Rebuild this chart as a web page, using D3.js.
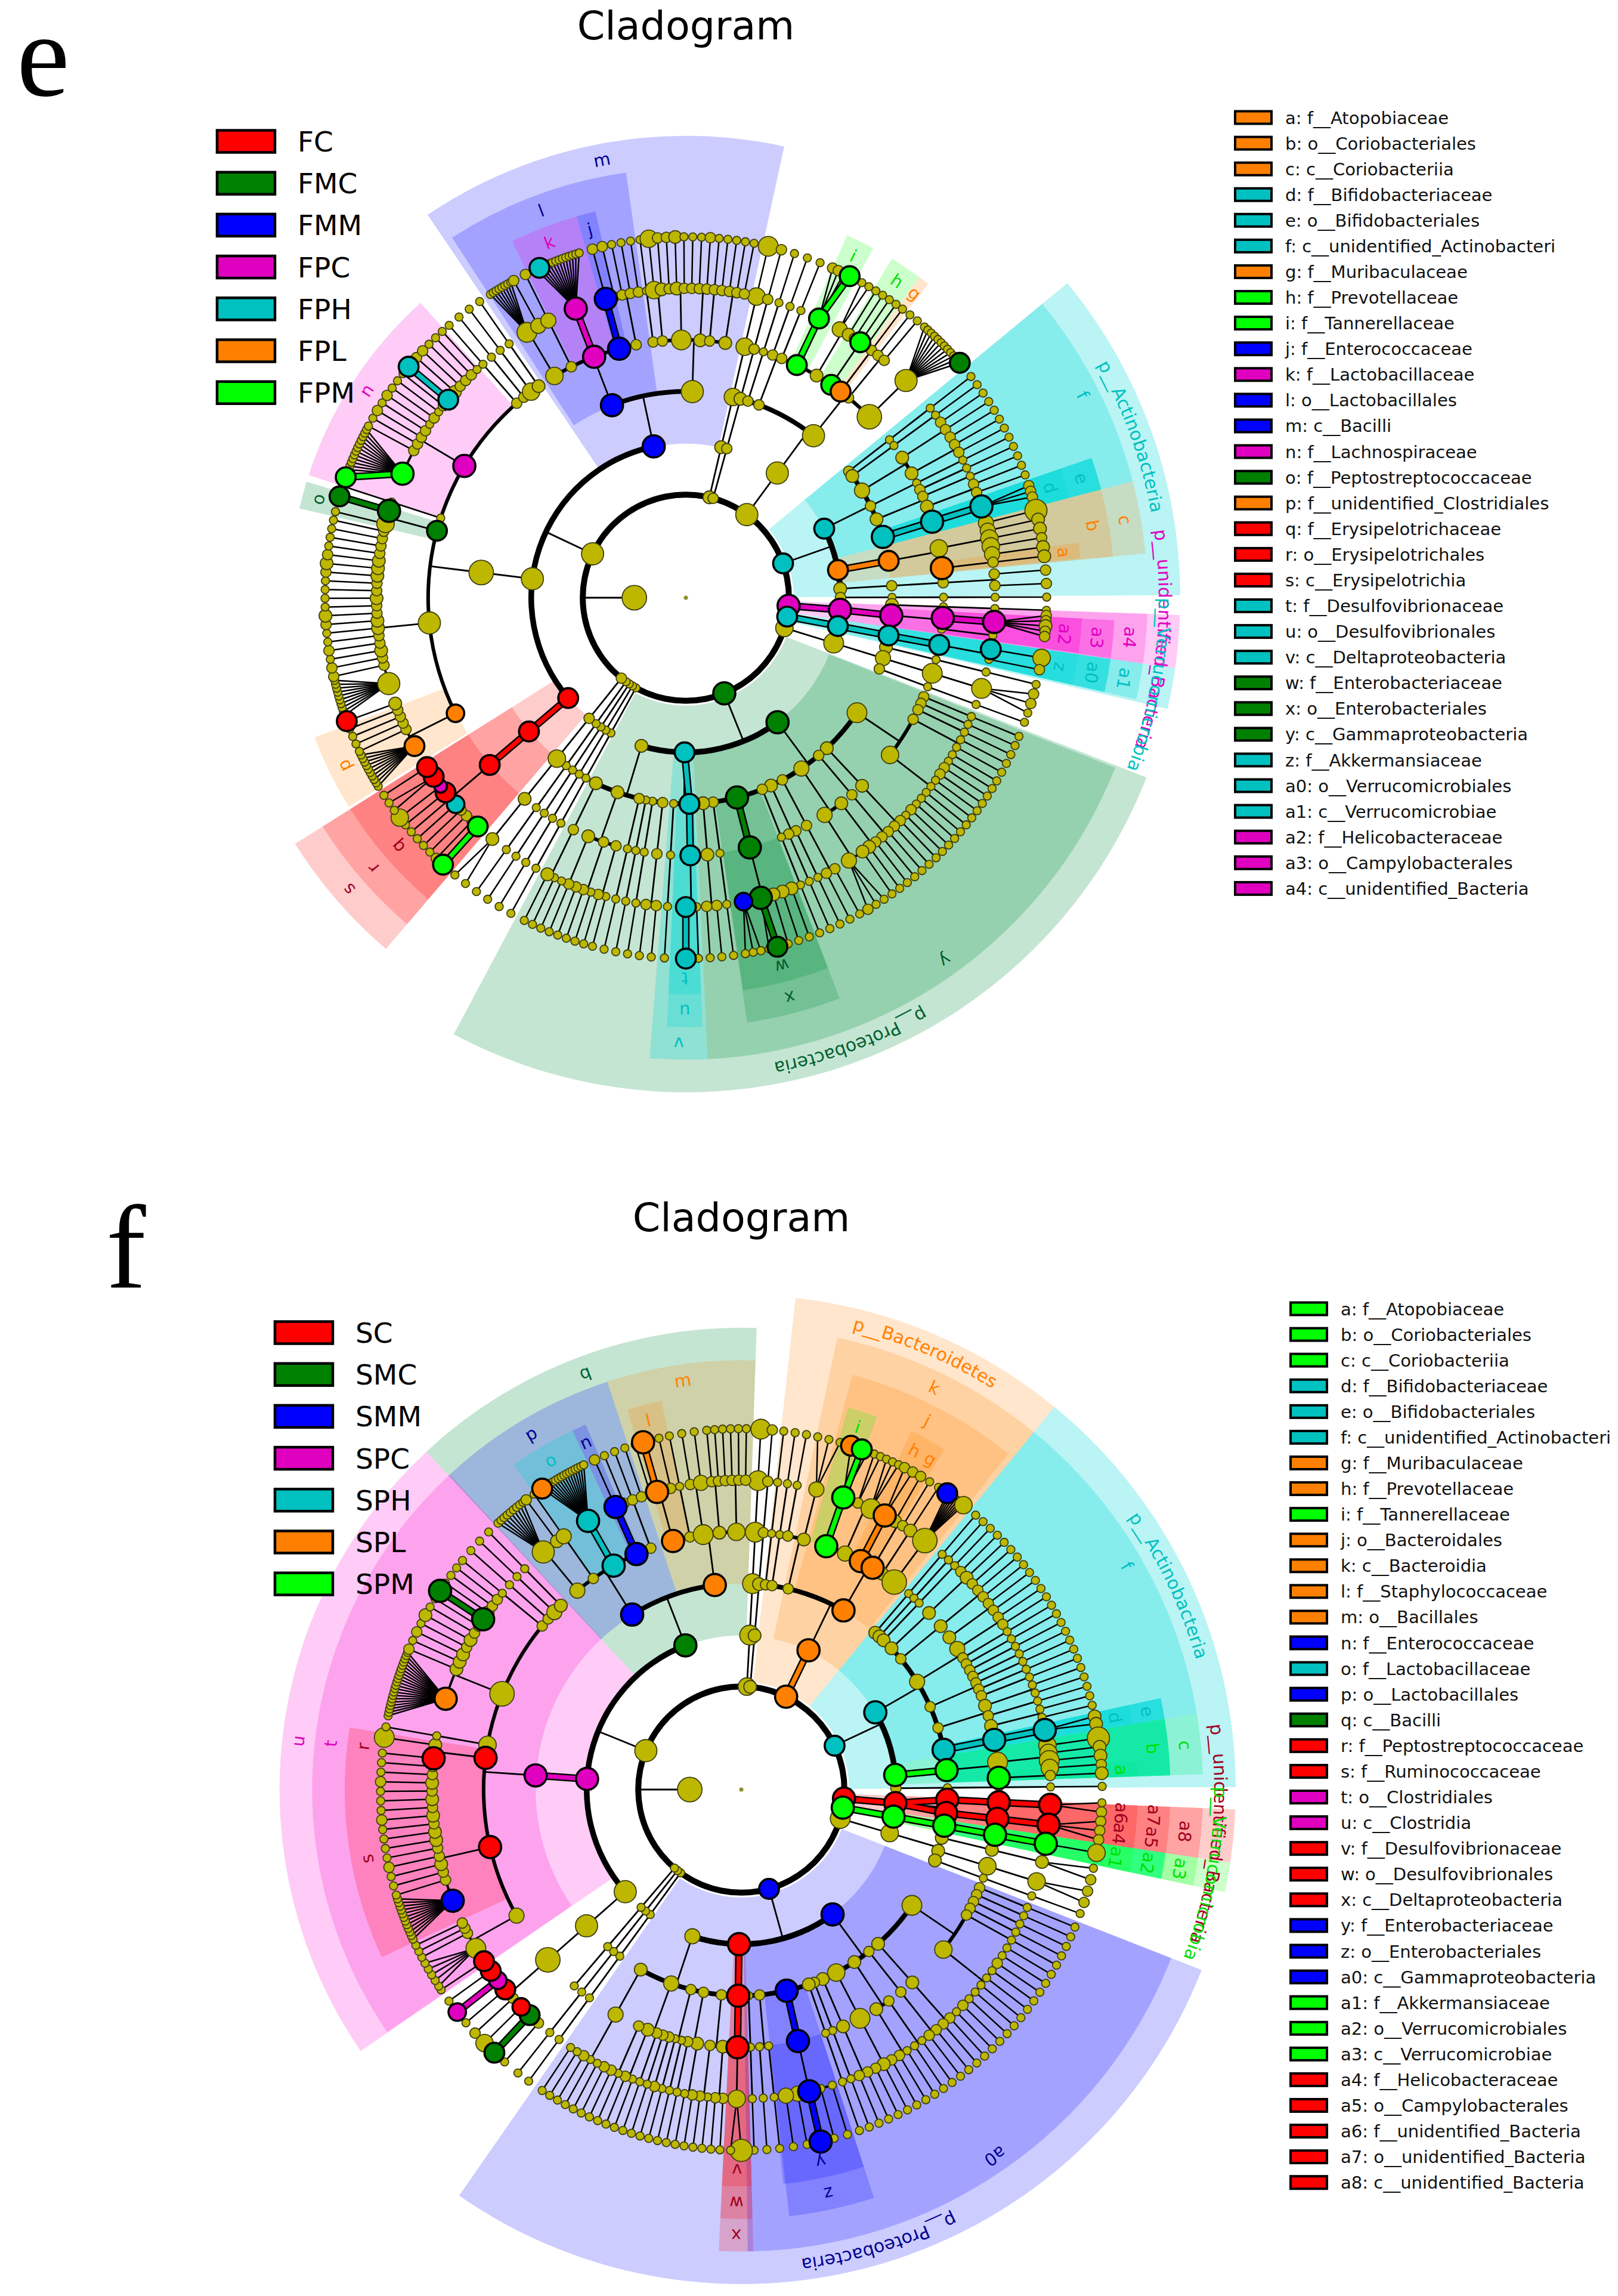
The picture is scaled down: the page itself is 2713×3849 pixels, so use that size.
<!DOCTYPE html>
<html><head><meta charset="utf-8">
<script src="https://cdn.jsdelivr.net/npm/d3@7/dist/d3.min.js"></script>
<style>html,body{margin:0;padding:0;background:#fff}svg{display:block}</style>
</head><body><svg id="c" width="2713" height="3849" viewBox="0 0 2713 3849"></svg>
<script>
// ---------- groups ----------
const groupCodes = ["R","G","B","M","T","O","L"];
const groupFill  = ["#ff0000","#008000","#0000ff","#e000c0","#00c0c0","#ff8000","#00ff00"];
const groupText  = ["#a00020","#006030","#000090","#e000c0","#00c0c0","#ff8000","#00e000"];
const sectorFill = ["#ff0000","#00903c","#0000ff","#f800d0","#00d8d8","#ff8000","#00ff00"];
const sectorAlpha = [.2,.23,.2,.2,.27,.2,.2];
const namesE = ["FC","FMC","FMM","FPC","FPH","FPL","FPM"];
const namesF = ["SC","SMC","SMM","SPC","SPH","SPL","SPM"];

// ---------- taxa legend (key, taxon, group) ----------
const taxaKeysE = ["a","b","c","d","e","f","g","h","i","j","k","l","m","n","o","p","q","r","s","t","u","v","w","x","y","z","a0","a1","a2","a3","a4"];
const taxaNamesE = ["f__Atopobiaceae","o__Coriobacteriales","c__Coriobacteriia","f__Bifidobacteriaceae","o__Bifidobacteriales","c__unidentified_Actinobacteri","f__Muribaculaceae","f__Prevotellaceae","f__Tannerellaceae","f__Enterococcaceae","f__Lactobacillaceae","o__Lactobacillales","c__Bacilli","f__Lachnospiraceae","f__Peptostreptococcaceae","f__unidentified_Clostridiales","f__Erysipelotrichaceae","o__Erysipelotrichales","c__Erysipelotrichia","f__Desulfovibrionaceae","o__Desulfovibrionales","c__Deltaproteobacteria","f__Enterobacteriaceae","o__Enterobacteriales","c__Gammaproteobacteria","f__Akkermansiaceae","o__Verrucomicrobiales","c__Verrucomicrobiae","f__Helicobacteraceae","o__Campylobacterales","c__unidentified_Bacteria"];
const taxaGroupsE = "O O O T T T O L L B M B B M G O R R R T T T G G G T T T M M M".split(" ");
const taxaKeysF = ["a","b","c","d","e","f","g","h","i","j","k","l","m","n","o","p","q","r","s","t","u","v","w","x","y","z","a0","a1","a2","a3","a4","a5","a6","a7","a8"];
const taxaNamesF = ["f__Atopobiaceae","o__Coriobacteriales","c__Coriobacteriia","f__Bifidobacteriaceae","o__Bifidobacteriales","c__unidentified_Actinobacteri","f__Muribaculaceae","f__Prevotellaceae","f__Tannerellaceae","o__Bacteroidales","c__Bacteroidia","f__Staphylococcaceae","o__Bacillales","f__Enterococcaceae","f__Lactobacillaceae","o__Lactobacillales","c__Bacilli","f__Peptostreptococcaceae","f__Ruminococcaceae","o__Clostridiales","c__Clostridia","f__Desulfovibrionaceae","o__Desulfovibrionales","c__Deltaproteobacteria","f__Enterobacteriaceae","o__Enterobacteriales","c__Gammaproteobacteria","f__Akkermansiaceae","o__Verrucomicrobiales","c__Verrucomicrobiae","f__Helicobacteraceae","o__Campylobacterales","f__unidentified_Bacteria","o__unidentified_Bacteria","c__unidentified_Bacteria"];
const taxaGroupsF = "L L L T T T O O L O O O O B T B G R R M M R R R B B B L L L R R R R R".split(" ");

// ---------- taxonomy trees: digit = abundance class, letter = enriched group,
// :name = labelled clade, ~n = n further single descendants, | = anchored leaf ----------
const treeE = [
 "|3(3(5(5(5(6)))))",
 "2(2(3(2(2(2)))))",
 "7(7(2~3 2(2~2 2~2) 7(|6L:i(6L(2 2 1 |6L)) |3(4(1 1) 3(1)) 6L:h(2(1) 6L(1) 2(1)) |6O:g(2(1)) 2(2(1) 2(1)) 8(7(|1 1 1 1 1 1 1 1 1 1 1 |6G)))))",
 "6T:p__Actinobacteria(6T:f(|2~3 3~3 4(3(2~1 2~1 2~1) 3(2~1 2~1)) 2~3 3(2~2 2~2 3(2~1 |2~1)) 7T:e(7T:d(7T(|2 2 |2)))) 6O:c(6O:b(5(|4(7) 4(3) 5(3) 5(2) 4(3)) 7O:a(2(|3)))) 3(2(2(|2(2) 2(2)))) |2~4)",
 "7M:p__unidentified_Bacteria(7M:a4(|3~3 7M:a3(7M:a2(7M(2 2 3 2 2)) |1~1)))",
 "6T:p__Verrucomicrobia(6T:a1(6T:a0(6T:z(|6T(5) |1(2)))))",
 "|5(6(3~3 4(6(6(2 2 1))) |2~3))",
 "7G:p__Proteobacteria(7G:y(6(|2~2 2~2 2~2 2(1~1 1~1) 5(|1~1 1~1 2~1 2~1 1~1 1~1 1~1 1~1 1~1 2~1 1~1)) |3(3(2~1 2~1)) 2(2(2~1 2~1)) 4(3(2~1 3~1) 4(3~1 4(1 1 2))) |2(2(2~1 2~1)) 3(2~2 2~2) 2~3 |7G:x(7G:w(3~1 3~1 3~1 7G(|6G 1) 5B(|1 1 |1))) |2~3 3(3(2~1 2~1))) 6T:v(6T:u(6T:t(|1~1 |6T(6T))) |1~3) 3(2(2(|2~1 2~1)) 1~3 1~3 2~3 3(|2(1~1 2~1) 2(1~1 2~1) 3(2~1 2~1 1~1)) 3(2(1~1 |3~1))))",
 "|1~5", "1~5", "1~5", "1~5", "2(2(5(3(3(1 |1)))))",
 "7(6R:s(6R:r(6R:q(|6L(6L) 2(2) 2(1) 2(1) 5T(1) 2(1) 6R(1) 3M(5) 6R(1 1) |6R(1)))) 7(8(5O:p(|6O(1 1 1 1 1 1 1 1 1 1) |2(1) 2(1) 2(1) 2(1) |3(6R)) 7(|7(1 1 1 1 1 1 1 1 1 1) |2(2) 2(2) 3(1) 2(2) 2(1) 3(1) 3(2) 2(3) 2(1) 3(1) 2(1) 2(1) 3(2) 3(3) 3(2) 2(1) 2(1) 2(1) 2(1)) 6G:o(|5(1) |7G(6G)) |1~2 7M:n(|7L(6L 1 1 1 1 1 1 1 1 1 1 1 1 1) |2(1) 2(1) 2(2) 2(1) 1(2) 2(1) 1(1) 2(1) |6T(6T) |3(2) 2(2) 2(1) 2(1) 1(1)) |2~2 2~2 5~2 3~2)) 7B:m(7B:l(5(|6(1 1 1 1 1 1 1 1) |4(2)) |2(4(2)) 7M:k(7M(|1 6T 1 1 1 1 1 1 1 1 1 1 1 |1)) |7B:j(7B(2)) |2(2(2) 2(1) 2(1) 2(1))) 7(|2~2 2(5(5) 3(2)) 6(2(2) 3(3) 2(1) 2(1)) 3(2(1) 2(2)) 2(2(1)) 3(2(1) 2(1) 2(1) |2(1)))))"
];
const leafAnchorsE = [13.2, 24,27,29.2,36.9,41.4,49.4, 52.2,70.1,71.9,73.8,76,83.4,85.6,89.9, 92,97, 99.6,101.5, 103.9,110.2,
 112.6,120.5,136.1,151.2,160,165.3,168,170.5,172.4, 178,180,183.4, 185.5,195,206.6, 209,219.8, 222.3,236.8, 238.5,244.8,250, 251,257.4, 283.8,286.3, 288, 289.5,298.4,309.8,311.7, 319,
 327.2,331.5,333.6,335.5,342.8,345,346.6, 352.7,370.9];

const treeF = [
 "|5(6(6(6(6(6)))))",
 "3(3(3(2(2(2)))))",
 "7O:p__Bacteroidetes(7O:k(2~3 2~3 2(2~2 3(4(1 1 1))) 7O:j(7L:i(7L(|6O |6L 1)) 4(2(1 1) 6(1 1 1)) |7O:h(7O(2 2)) |7O:g(3(2) 2(1)) 3(3(1)) 8(8(|6B 1 1 1 1 1 1 1 |5)))))",
 "6T:p__Actinobacteria(7T:f(|3~3 3~3 3~3 3(3(2~1 3~1 2~1)) 2(3(2~1 2~1)) 4(3(2~1 2~1) 4(2~1 2~1) 2~2 2~2 2~2 2~2) 2(2~2 2~2) 2(2~2 3(1~1 1~1) 2~2 3(1~1 |1~1)) 7T:e(7T:d(7T(|3 |3)))) 7L:c(7L:b(6(|5(7) 5(3) 6(3) 5(2)) 7L:a(2(|3)))) |2~4)",
 "7R:p__unidentified_Bacteria(7R:a8(7R:a7(7R:a6(7R(|1 2))) 7R:a5(7R:a4(7R(2 2 |2)))))",
 "7L:p__Verrucomicrobia(7L:a3(7L:a2(7L:a1(7L(|5)))))",
 "6(5(3(3(3(|1 2))) 3(5(5(2 2))) |3~3))",
 "6B:p__Proteobacteria(7B:a0(6(|2~2 2~2 2~2 2~2 2~2 5(1~1 1~1 2~1 1~1 1~1 1~1 1~1 1~1 2~1 1~1)) |3(3(2~1 2~1)) 2(2(2~1 2~1)) 3(2(1~1 1~1) 3(1~1 2~1)) 5(6(2~1 3~1 2~1)) 3(3(2~1 2~1)) 2~3 |3~3 |7B:z(7B:y(1~1 1~1 7B(7B) 4~1 4~1)) |2(1~2 1~2) 1~3) 7R:x(7R:w(7R:v(5(|7 1)))) 4(2(|3(2~1 2~1) 2(1~1 2~1)) 2(3(2~1 1~1) 2(1~1)) 2(1~2 1~2) 4(2(2~1) 2~2 2~2 3(1~1 2~1) 2~2) 3(4(2~1 2~1 1~1 1~1 2~1 1~1 |1~1))))",
 "|1~5", "1~5", "|1~3",
 "7(7(7(8(|2(1) 6G(6G) 5R(5) 2(2) 6R(1) 5M(5M) 6R(1) |6R(1)))) 7M:u(7M:t(4(|6(1 1 1 1 1) 2(1) 2(1) 2(1)) 7R:s(|7B(1 1 1 1 1 1 1 1 1 1 1 1) |2(1) 2(1) 3(1) 2(2) 2(1) 3(1) 3(1) 2(1) 3(2) 2(1) 3(1) 2(1) 3(2) 2(1) 2(1)) 7R:r(|7R(1) |3(6)) |5~2 8(|7O(1 1 1 1 1 1 1 1 1 1 1 1 1 1 1 1 1 1 1 1) |3(2) 3(1) 3(2) 2(1) 3(3) 2(1) 2(1) 7G(7G) 3(1) 2(1) 2(1)) |2~2 2~2 4~2 3~2)) 7G:q(7B:p(4(|7(1 1 1 1 1 1 1 1 1) |3(2)) 2(4(1)) 7T:o(7T(|6O 1 1 1 1 1 1 1 1 1 1 1 1 1 1 |1)) 7B:n(7B(|2)) |2(2(1) 2(1) 2(1))) 7O:m(7O:l(|1~1 |7O(7O) |2~1) |2~2 6(2~1 4~1) |3(2~1 2~1) 5(2~1 2~1 2~1 |2~1))))"
];
const leafAnchorsF = [3.1, 17.7,19.5,26.9,29.8,34.8,38, 40.5,76.5,78.3,79.5,81.8,87.4,89.5, 92.1,98, 100.1, 102.6,110.1,
 112.4,137.6,160.9,162.9,173.9,180, 183.4,213.5, 216.1,220.4, 221,236.3, 237, 245.5,253, 275.8,278.3, 280, 281.8,292.9, 309.4,
 317.6,323.4,326.5,334.1,336,337.7, 342.9,344.2,346.8,348.5,354.5,360.8];

const nodeAnglesE = [["m",348],["l",339]];
const nodeAnglesF = [["q",338.8]];

// ---------- clade sectors (first and last angle, clockwise from north) ----------
const sectorsE = [
 ["p__Actinobacteria",50.5,89.7],["p__unidentified_Bacteria",92,98.2],["p__Verrucomicrobia",98.2,103],["p__Proteobacteria",111.3,208],
 ["m",326,372.3],["s",220.5,237.8],["f",50.5,75.4],["c",75.4,84.5],["y",111.6,177.3],["v",177.3,184.5],["a4",92,98.2],["a1",98.2,102.7],
 ["l",327,352],["r",220.5,237.8],["e",71,75.4],["b",75.4,84.5],["x",159,171.8],["u",177.8,182.5],["a3",93,98.1],["a0",98.2,102.7],
 ["a",82,84.3],["d",71,75.4],["g",36.1,37.7],["h",31.3,36.1],["i",24,28.2],["j",344,346.8],["k",334,344],["n",288,318],["o",283,287],["p",238.2,249.4],["q",220.5,237.8],["t",177.8,182.5],["w",159,171.7],["z",98.2,102.7],["a2",93,98]
];
const sectorsF = [
 ["p__Actinobacteria",39.3,89.7],["p__Bacteroidetes",6.3,39.3],["p__unidentified_Bacteria",92.3,98.5],["p__Verrucomicrobia",98.5,102],["p__Proteobacteria",111.4,214.8],
 ["f",39.3,80.5],["c",80.5,88.1],["k",12,39.3],["q",317,361.9],["u",235.5,317],["x",178.5,182.8],["a0",111.4,179.2],["a3",98.5,102],["a8",92.3,98.5],
 ["e",77.7,80.5],["b",80.5,88.1],["j",15,38.5],["m",341.8,361.9],["p",317,341.8],["t",235.6,317.2],["w",178.5,182.8],["z",162,173.6],["a2",98.5,102],["a5",94.8,98.5],["a7",92.3,94.8],
 ["a",86,88.1],["d",77.7,80.5],["g",28.7,30.8],["h",25.4,28.7],["i",15.6,20],["l",343.3,348.4],["n",334.8,336.9],["o",325,334.8],["r",274,279],["s",245,274],["v",178.5,182.8],["y",162,173.9],["a1",98.5,102],["a4",94.8,98.5],["a6",92.3,94.8]
];
// sectors whose band is visibly denser or tinted differently in the picture
const denseE = [["e",.7],["a0",.6],["a3",.3],["a2",.3]];
const denseF = [["e",.7],["b",.85,"#00e8a0"],["a",.3,"#00e890"],["c",.3,"#20f090"],["a2",.7,"#00ff70"]];

// ---------- scales ----------
const rad = d => d * Math.PI / 180;
const radiusOf = d3.scaleLinear().domain([0,6]).range([86.4,605]);
const sizeOf   = d3.scaleLinear().domain([1,9]).range([6.8,22.5]);
const outerOf  = d3.scaleLinear().domain([1,4]).range([829,665]);
const arcWidth = d3.scaleOrdinal().domain([1,2,3,4,5]).range([10,9.5,8,6,4]);
const groupColor = d3.scaleOrdinal().domain(groupCodes).range(groupFill);
const labelColor = d3.scaleOrdinal().domain(groupCodes).range(groupText);
const wedgeColor = d3.scaleOrdinal().domain(groupCodes).range(sectorFill);
const wedgeAlpha = d3.scaleOrdinal().domain(groupCodes).range(sectorAlpha);
const OLIVE = "#bdb700";

function parseTree(src){
  let i = 0;
  function node(){
    while(src[i]===" ") i++;
    const n = {size:1,group:null,label:null,pin:false,children:[]};
    if(src[i]==="|"){n.pin=true;i++;}
    n.size = +src[i++];
    if(/[RGBMTOL]/.test(src[i]||"")) n.group = src[i++];
    if(src[i]===":"){ i++; let s=""; while(/[A-Za-z0-9_]/.test(src[i]||"")) s+=src[i++]; n.label=s; }
    if(src[i]==="~"){ i++; let k=+src[i++]; let cur=n; while(k-->0){const c={size:1,group:null,label:null,pin:false,children:[]};cur.children.push(c);cur=c;} }
    if(src[i]==="("){ i++; for(;;){ while(src[i]===" ") i++; if(src[i]===")"){i++;break;} n.children.push(node()); } }
    return n;
  }
  const out=[]; while(i<src.length){ while(src[i]===" ") i++; if(i<src.length) out.push(node()); }
  return out;
}

const svg = d3.select("#c");

function drawClado(cx, cy, trees, anchors, sectors, nodeAngles, dense){
  const rootData = {size:8,group:null,label:null,children:trees.flatMap(parseTree)};
  const root = d3.hierarchy(rootData);
  const leaves = root.leaves();
  const pinIdx = [];
  root.eachBefore(n=>{ if(n.data.pin) pinIdx.push(leaves.indexOf(n.leaves()[0])); });
  if(pinIdx.length!==anchors.length) throw new Error("anchors "+pinIdx.length+" vs "+anchors.length);
  const angleOf = d3.scaleLinear().domain(pinIdx).range(anchors);
  leaves.forEach((l,i)=>l.angle=angleOf(i));
  root.eachAfter(n=>{ if(n.children) n.angle=d3.mean(n.leaves(),l=>l.angle); });
  root.angle = 270;
  const labelled = new Map();
  root.each(n=>{ n.r=radiusOf(n.depth); if(n.data.label) labelled.set(n.data.label,n); });
  nodeAngles.forEach(([k,a])=>{ labelled.get(k).angle=a; });
  const denseMap = new Map(dense.map(d=>[d[0],d]));

  const g = svg.append("g").attr("transform",`translate(${cx},${cy})`);
  const pt = (a,r)=>d3.pointRadial(rad(a),r);

  // clade sectors
  const sec = sectors.map(s=>({name:s[0],a0:s[1],a1:s[2],node:labelled.get(s[0])}));
  sec.forEach(s=>{ if(!s.node) throw new Error("no node "+s.name); });
  g.append("g").selectAll("path").data(sec).join("path")
    .attr("d",s=>d3.arc()({innerRadius:s.node.r+(s.node.depth===1?8:-1),outerRadius:outerOf(s.node.depth),startAngle:rad(s.a0),endAngle:rad(s.a1)}))
    .attr("fill",s=>(denseMap.get(s.name)||[])[2]||wedgeColor(s.node.data.group))
    .attr("fill-opacity",s=>(denseMap.get(s.name)||[])[1]||wedgeAlpha(s.node.data.group));

  const links = root.links();
  const thick = l=>{
    const p=l.source,c=l.target;
    if(!c.data.group||c.data.group!==p.data.group) return false;
    return p.children.length===1||c.depth===6||(c.depth<=3&&Math.abs(c.angle-p.angle)<2.5);
  };
  // thin links
  g.append("g").selectAll("line").data(links.filter(l=>!thick(l)&&(l.target.depth===6))).join("line")
    .attr("x1",l=>pt(l.source.angle,l.source.r)[0]).attr("y1",l=>pt(l.source.angle,l.source.r)[1])
    .attr("x2",l=>pt(l.target.angle,l.target.r)[0]).attr("y2",l=>pt(l.target.angle,l.target.r)[1])
    .attr("stroke","#000").attr("stroke-width",2.5);
  const parents = root.descendants().filter(n=>n.children&&n.depth<5);
  g.append("g").selectAll("line").data(parents.filter(p=>!(p.children.length===1&&thick({source:p,target:p.children[0]})))).join("line")
    .attr("x1",p=>pt(p.angle,p.r)[0]).attr("y1",p=>pt(p.angle,p.r)[1])
    .attr("x2",p=>pt(p.angle,radiusOf(p.depth+1))[0]).attr("y2",p=>pt(p.angle,radiusOf(p.depth+1))[1])
    .attr("stroke","#000").attr("stroke-width",2.8);
  // arcs joining siblings
  g.append("g").selectAll("path").data(parents.filter(p=>p.children.length>1)).join("path")
    .attr("d",p=>{
      const r=radiusOf(p.depth+1), w=arcWidth(p.depth+1)/2;
      const a0=p.depth===0?0:d3.min(p.children,c=>c.angle), a1=p.depth===0?360:d3.max(p.children,c=>c.angle);
      return d3.arc()({innerRadius:r-w,outerRadius:r+w,startAngle:rad(a0),endAngle:rad(a1)});
    }).attr("fill","#000");
  // coloured links with a black casing
  const tl = links.filter(thick);
  [["#000",12.5],[null,7.5]].forEach(([col,w])=>{
    g.append("g").selectAll("line").data(tl).join("line")
      .attr("x1",l=>pt(l.source.angle,l.source.r)[0]).attr("y1",l=>pt(l.source.angle,l.source.r)[1])
      .attr("x2",l=>pt(l.target.angle,l.target.r)[0]).attr("y2",l=>pt(l.target.angle,l.target.r)[1])
      .attr("stroke",l=>col||groupColor(l.target.data.group)).attr("stroke-width",w);
  });
  // centre dot
  g.append("circle").attr("r",3.5).attr("fill","#8f8f30");
  // nodes
  const nodes = root.descendants().sort((a,b)=>(a.data.group?1:0)-(b.data.group?1:0));
  g.append("g").selectAll("circle").data(nodes).join("circle")
    .attr("cx",n=>pt(n.angle,n.r)[0]).attr("cy",n=>pt(n.angle,n.r)[1])
    .attr("r",n=>sizeOf(n.data.size))
    .attr("fill",n=>n.data.group?groupColor(n.data.group):OLIVE)
    .attr("stroke",n=>n.data.group?"#000":"#403f10")
    .attr("stroke-width",n=>n.data.group?3.6:1.8);

  // letter labels
  g.append("g").selectAll("text").data(sec.filter(s=>s.node.depth>1)).join("text")
    .attr("transform",s=>{const m=(s.a0+s.a1)/2,[x,y]=pt(m,outerOf(s.node.depth)-27);return `translate(${x},${y}) rotate(${m})`;})
    .attr("text-anchor","middle").attr("dominant-baseline","central")
    .attr("font-family","DejaVu Sans").attr("font-size",29)
    .attr("fill",s=>labelColor(s.node.data.group)).text(s=>s.name);
  // phylum labels on curves
  sec.filter(s=>s.node.depth===1).forEach((s,i)=>{
    const m=(s.a0+s.a1)/2, id=`ph${cx}_${i}`, R=793;
    const [x0,y0]=pt(m-70,R),[x1,y1]=pt(m+70,R);
    g.append("path").attr("id",id).attr("fill","none").attr("d",`M${x0},${y0}A${R},${R} 0 0 1 ${x1},${y1}`);
    g.append("text").attr("font-family","DejaVu Sans").attr("font-size",30)
      .attr("fill",labelColor(s.node.data.group))
      .append("textPath").attr("href","#"+id).attr("startOffset","50%").attr("text-anchor","middle").text(s.name);
  });
}

function drawFrame(cfg){
  svg.append("text").attr("x",cfg.letterX).attr("y",cfg.letterY).attr("font-family","Liberation Serif").attr("font-size",200).attr("fill","#000").text(cfg.letter);
  svg.append("text").attr("x",cfg.titleX).attr("y",cfg.titleY).attr("text-anchor","middle").attr("font-family","DejaVu Sans").attr("font-size",66.7).attr("fill","#000").text("Cladogram");
  const yG=d3.scaleLinear().domain([0,1]).range([cfg.groupY,cfg.groupY+70.2]);
  const gg=svg.append("g");
  gg.selectAll("rect").data(groupCodes).join("rect")
    .attr("x",cfg.groupX).attr("y",(d,i)=>yG(i)-18.5).attr("width",97).attr("height",37)
    .attr("fill",d=>groupColor(d)).attr("stroke","#000").attr("stroke-width",4.5);
  gg.selectAll("text").data(cfg.names).join("text")
    .attr("x",cfg.groupX+135).attr("y",(d,i)=>yG(i)+17).attr("font-family","DejaVu Sans").attr("font-size",47).attr("fill","#000").text(d=>d);
  const yT=d3.scaleLinear().domain([0,1]).range([cfg.taxaY,cfg.taxaY+43.08]);
  const tg=svg.append("g");
  tg.selectAll("rect").data(cfg.keys).join("rect")
    .attr("x",cfg.taxaX).attr("y",(d,i)=>yT(i)-10.5).attr("width",61).attr("height",21)
    .attr("fill",(d,i)=>groupColor(cfg.groups[i])).attr("stroke","#000").attr("stroke-width",4);
  tg.selectAll("text").data(cfg.keys).join("text")
    .attr("x",cfg.taxaX+84).attr("y",(d,i)=>yT(i)+10.5).attr("font-family","DejaVu Sans").attr("font-size",29).attr("fill","#111")
    .text((d,i)=>`${d}: ${cfg.taxa[i]}`);
}

drawClado(1150,1002,treeE,leafAnchorsE,sectorsE,nodeAnglesE,denseE);
drawClado(1243,3000,treeF,leafAnchorsF,sectorsF,nodeAnglesF,denseF);
drawFrame({letter:"e",letterX:28,letterY:160,titleX:1150,titleY:66,names:namesE,groupX:364,groupY:237,keys:taxaKeysE,taxa:taxaNamesE,groups:taxaGroupsE,taxaX:2071,taxaY:197});
drawFrame({letter:"f",letterX:178,letterY:2158,titleX:1243,titleY:2064,names:namesF,groupX:461,groupY:2234,keys:taxaKeysF,taxa:taxaNamesF,groups:taxaGroupsF,taxaX:2164,taxaY:2194});
</script></body></html>
